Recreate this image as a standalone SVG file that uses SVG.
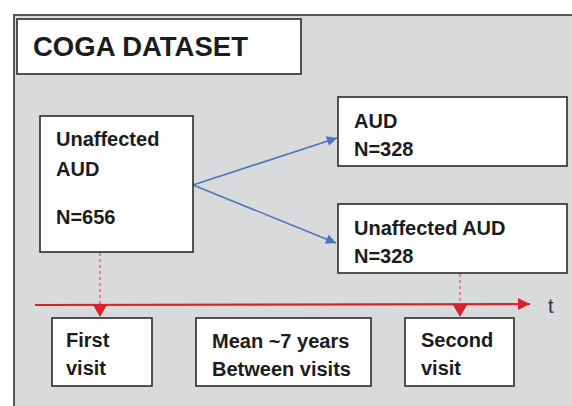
<svg xmlns="http://www.w3.org/2000/svg" width="572" height="406" viewBox="0 0 572 406">
<defs>
<style>
.box{fill:#ffffff;stroke:#2b2b2b;stroke-width:1.6}
.t{font-family:"Liberation Sans",Arial,sans-serif;font-weight:bold;font-size:20px;fill:#1c1c1c}
.title{font-size:27px}
.blue{stroke:#4a74c0;stroke-width:1.6;fill:none}
.dot{stroke:#e0707c;stroke-width:1.6;stroke-dasharray:3 3;fill:none}
</style>
<marker id="ab" viewBox="0 0 10 10" refX="10" refY="5" markerWidth="11" markerHeight="10" markerUnits="userSpaceOnUse" orient="auto"><path d="M0,0 L10,5 L0,10 z" fill="#4a74c0"/></marker>
<marker id="ar" viewBox="0 0 10 10" refX="10" refY="5" markerWidth="13" markerHeight="12" markerUnits="userSpaceOnUse" orient="auto"><path d="M0,0 L10,5 L0,10 z" fill="#d8232f"/></marker>
</defs>
<rect x="0" y="0" width="572" height="406" fill="#ffffff"/>
<rect x="14" y="15" width="570" height="400" fill="#d9dadc" stroke="#555555" stroke-width="2"/>
<g id="title">
<rect class="box" x="17" y="19" width="284" height="55"/>
<text class="t title" x="33" y="56" textLength="215" lengthAdjust="spacingAndGlyphs">COGA DATASET</text>
</g>
<g id="connectors">
<path class="blue" d="M193,185 L337,138" marker-end="url(#ab)"/>
<path class="blue" d="M193,185 L336,243" marker-end="url(#ab)"/>
<path class="dot" d="M100,253 L100,306"/>
<path class="dot" d="M460,274 L460,306"/>
<path d="M35,305 L530,304" stroke="#d8232f" stroke-width="2.2" fill="none" marker-end="url(#ar)"/>
<path d="M93,305 L107,305 L100,317 z" fill="#d8232f"/>
<path d="M453,305 L467,305 L460,317 z" fill="#d8232f"/>
</g>
<g id="start">
<rect class="box" x="40" y="116" width="153" height="136"/>
<text class="t" x="56" y="146">Unaffected</text>
<text class="t" x="56" y="176">AUD</text>
<text class="t" x="56" y="224">N=656</text>
</g>
<g id="aud">
<rect class="box" x="338" y="97" width="229" height="69"/>
<text class="t" x="354" y="128">AUD</text>
<text class="t" x="354" y="156">N=328</text>
</g>
<g id="unaffected">
<rect class="box" x="338" y="204" width="229" height="69"/>
<text class="t" x="354" y="235">Unaffected AUD</text>
<text class="t" x="354" y="263">N=328</text>
</g>
<g id="first">
<rect class="box" x="52" y="318" width="100" height="68"/>
<text class="t" x="66" y="347">First</text>
<text class="t" x="66" y="375">visit</text>
</g>
<g id="mean">
<rect class="box" x="196" y="318" width="175" height="68"/>
<text class="t" x="212" y="348">Mean ~7 years</text>
<text class="t" x="212" y="376">Between visits</text>
</g>
<g id="second">
<rect class="box" x="405" y="318" width="109" height="68"/>
<text class="t" x="421" y="347">Second</text>
<text class="t" x="421" y="375">visit</text>
</g>
<text x="548" y="313" font-family="'Liberation Sans',Arial,sans-serif" font-size="20" fill="#333333">t</text>
</svg>
